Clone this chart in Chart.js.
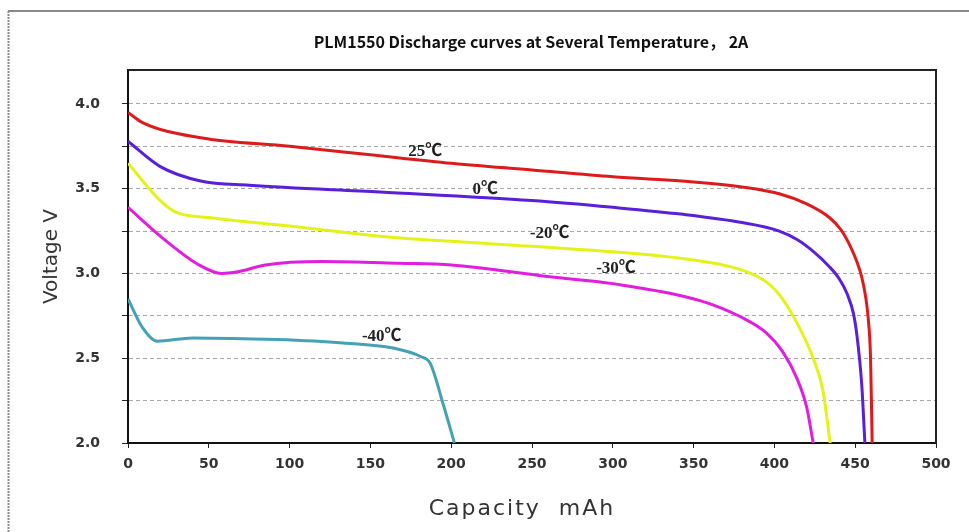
<!DOCTYPE html>
<html>
<head>
<meta charset="utf-8">
<script src="https://cdn.jsdelivr.net/npm/chart.js@4.4.1/dist/chart.umd.min.js"></script>
<style>
  html, body { margin: 0; padding: 0; background: #fff; }
  #wrap { position: relative; width: 969px; height: 532px; }
</style>
</head>
<body>
<div id="wrap"><canvas id="myChart" width="969" height="532"></canvas></div>
<script>
// discharge curves (capacity mAh / voltage V)
var temps = ['25℃', '0℃', '-20℃', '-30℃', '-40℃'];
var colors = ['#dc1c1c', '#5a1fd8', '#e4f21a', '#e11ee0', '#45a2b6'];

var cap25 = [0, 9, 45, 100, 150, 200, 250, 300, 350, 380, 403, 420, 434, 441, 447, 451, 454, 456.5, 458, 459.5, 460.5];
var volt25 = [3.95, 3.89, 3.80, 3.75, 3.70, 3.65, 3.61, 3.57, 3.54, 3.51, 3.47, 3.41, 3.33, 3.26, 3.16, 3.07, 2.98, 2.86, 2.74, 2.50, 2.00];

var cap0 = [0, 20, 45, 75, 156, 250, 300, 342, 380, 403, 414, 424, 434, 440, 445, 449, 451, 454, 456];
var volt0 = [3.78, 3.63, 3.545, 3.52, 3.48, 3.43, 3.39, 3.35, 3.30, 3.25, 3.20, 3.13, 3.04, 2.97, 2.88, 2.76, 2.64, 2.35, 2.00];

var capM20 = [0, 20, 30, 50, 100, 156, 250, 342, 380, 395, 405, 416, 424, 430, 434.5];
var voltM20 = [3.65, 3.43, 3.36, 3.33, 3.28, 3.22, 3.16, 3.09, 3.02, 2.95, 2.85, 2.67, 2.50, 2.31, 2.00];

var capM30 = [0, 20, 44, 58, 68, 85, 120, 168, 200, 261, 300, 354, 380, 395, 405, 414, 420, 424];
var voltM30 = [3.39, 3.22, 3.05, 3.00, 3.01, 3.05, 3.07, 3.06, 3.05, 2.98, 2.94, 2.84, 2.74, 2.65, 2.54, 2.38, 2.21, 2.00];

var capM40 = [0, 9, 18, 40, 92, 133, 164, 181, 187, 195, 202];
var voltM40 = [2.85, 2.68, 2.60, 2.62, 2.61, 2.59, 2.56, 2.51, 2.47, 2.23, 2.00];

var caps = [cap25, cap0, capM20, capM30, capM40];
var volts = [volt25, volt0, voltM20, voltM30, voltM40];

// where the temperature tags sit (data coords)
var tagX = [184, 221, 261, 302, 157];
var tagY = [3.716, 3.497, 3.237, 3.03, 2.63];

var xTicks = [0, 50, 100, 150, 200, 250, 300, 350, 400, 450, 500];
var yTicks = [2.0, 2.25, 2.5, 2.75, 3.0, 3.25, 3.5, 3.75, 4.0];

var chartTitle = 'PLM1550 Discharge curves at Several Temperature， 2A';
var xTitle = 'Capacity  mAh';
var yTitle = 'Voltage V';

var datasets = temps.map(function (t, i) {
  return {
    label: t,
    data: caps[i].map(function (c, j) { return { x: c, y: volts[i][j] }; }),
    borderColor: colors[i],
    borderWidth: 3,
    pointRadius: 0,
    fill: false,
    cubicInterpolationMode: 'monotone'
  };
});

var extras = {
  id: 'extras',
  beforeDraw: function (chart) {
    var ctx = chart.ctx;
    ctx.save();
    // outer frame of the picture
    ctx.strokeStyle = '#8a8a8a';
    ctx.lineWidth = 2;
    ctx.beginPath();
    ctx.moveTo(8, 11);
    ctx.lineTo(969, 11);
    ctx.stroke();
    ctx.setLineDash([2, 1]);
    ctx.beginPath();
    ctx.moveTo(8.5, 11);
    ctx.lineTo(8.5, 532);
    ctx.stroke();
    ctx.restore();
  },
  afterDraw: function (chart) {
    var ctx = chart.ctx;
    var a = chart.chartArea;
    var xs = chart.scales.x, ys = chart.scales.y;
    ctx.save();
    // plot box top/right
    ctx.strokeStyle = '#222';
    ctx.lineWidth = 2;
    ctx.beginPath();
    ctx.moveTo(a.left, a.top);
    ctx.lineTo(a.right, a.top);
    ctx.lineTo(a.right, a.bottom);
    ctx.stroke();

    // title
    ctx.fillStyle = '#111';
    ctx.font = 'bold 16px "Liberation Sans Narrow", "Noto Sans CJK SC", sans-serif';
    ctx.textAlign = 'center';
    ctx.textBaseline = 'middle';
    ctx.fillText(chartTitle, 531, 42);

    // x axis title
    ctx.fillStyle = '#333';
    ctx.font = '22px "DejaVu Sans", sans-serif';
    ctx.letterSpacing = '2px';
    ctx.fillText(xTitle, 522, 509);
    ctx.letterSpacing = '0px';

    // temperature tags
    ctx.fillStyle = '#222';
    ctx.font = 'bold 17px "Liberation Serif", "Noto Sans CJK SC", serif';
    temps.forEach(function (t, i) {
      ctx.fillText(t, xs.getPixelForValue(tagX[i]), ys.getPixelForValue(tagY[i]));
    });
    ctx.restore();
  }
};

var ctx = document.getElementById('myChart').getContext('2d');
var chart = new Chart(ctx, {
  type: 'line',
  data: { datasets: datasets },
  plugins: [extras],
  options: {
    responsive: false,
    animation: false,
    layout: { padding: { top: 70, right: 33, bottom: 59, left: 0 } },
    plugins: {
      legend: { display: false },
      tooltip: { enabled: false },
      title: { display: false }
    },
    scales: {
      x: {
        type: 'linear',
        min: 0,
        max: 500,
        afterFit: function (s) { s.height = 30; },
        afterBuildTicks: function (s) { s.ticks = xTicks.map(function (v) { return { value: v }; }); },
        grid: { drawOnChartArea: false, drawTicks: true, tickLength: 5, tickColor: '#222' },
        border: { display: true, color: '#111', width: 2 },
        ticks: {
          padding: 8,
          color: '#333',
          font: { family: 'DejaVu Sans', size: 14, weight: 'bold' },
          maxRotation: 0
        }
      },
      y: {
        type: 'linear',
        min: 2.0,
        max: 4.2,
        afterFit: function (s) { s.width = 128; },
        afterBuildTicks: function (s) { s.ticks = yTicks.map(function (v) { return { value: v }; }); },
        grid: {
          color: function (c) { return c.tick && c.tick.value === 2.0 ? 'rgba(0,0,0,0)' : '#a8a8a8'; },
          lineWidth: 1,
          tickColor: '#222',
          tickLength: 6
        },
        border: { display: true, color: '#111', width: 2, dash: [4, 3] },
        ticks: {
          padding: 22,
          color: '#333',
          font: { family: 'DejaVu Sans', size: 14, weight: 'bold' },
          callback: function (v) { return Math.abs(v * 2 - Math.round(v * 2)) < 1e-6 ? v.toFixed(1) : ''; }
        },
        title: {
          display: true,
          text: yTitle,
          color: '#333',
          font: { family: 'DejaVu Sans', size: 20 },
          padding: { top: 40, bottom: 0 }
        }
      }
    }
  }
});
</script>
</body>
</html>
